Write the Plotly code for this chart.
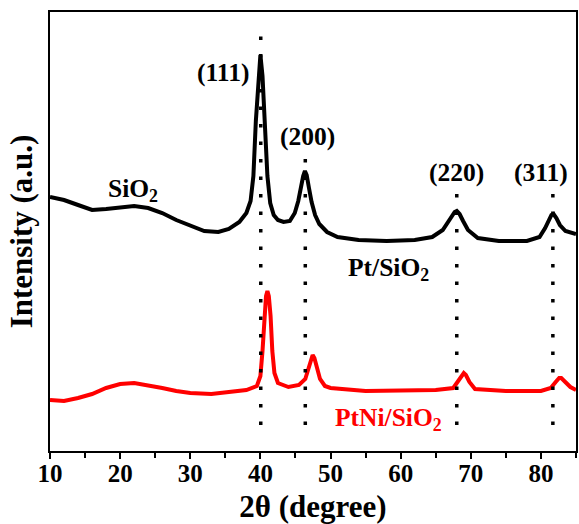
import plotly.graph_objects as go

# ---- data (intensity in arbitrary units) ----
pt_x = [10, 12, 14, 16, 18, 20, 22, 24, 26, 28, 30, 32, 34, 35.5, 37, 38, 38.6, 39.0, 39.35, 39.7, 40.0,
        40.3, 40.65, 41.0, 41.4, 41.9, 42.5, 43.3, 44.2, 44.9, 45.4, 45.8, 46.1, 46.35, 46.6, 46.9, 47.3,
        47.8, 48.4, 49.5, 51, 54, 58, 62, 64.5, 66, 66.8, 67.3, 67.7, 68.0, 68.4, 68.9, 69.6, 71, 74, 78,
        79.8, 80.6, 81.1, 81.5, 81.8, 82.2, 82.7, 83.5, 85]
pt_y = [254, 251, 246, 241, 242, 244, 245, 243, 238, 231, 225, 220, 219, 222, 229, 238, 250, 275, 330, 375, 396,
        375, 330, 275, 248, 236, 231, 229, 230, 238, 250, 265, 275, 280, 276, 264, 249,
        236, 227, 219, 214, 211, 210, 211, 214, 221, 229, 235, 239, 240, 237, 230, 221, 213, 210, 210,
        214, 223, 231, 236, 237, 233, 226, 220, 217]

ptni_x = [10, 12, 14, 16, 18, 20, 22, 24, 26, 28, 30, 33, 36, 38, 39.5, 40.0, 40.3, 40.55, 40.8, 41.0,
          41.2, 41.45, 41.7, 42.0, 42.5, 44, 45.5, 46.4, 46.9, 47.2, 47.45, 47.7, 48.0, 48.5, 49.2, 50,
          55, 60, 65, 67.5, 68.2, 68.7, 69.0, 69.3, 69.8, 70.6, 75, 80, 81.4, 82.1, 82.6, 82.9, 83.4, 84.2, 85]
ptni_y = [51, 50, 53, 57, 63, 67, 68, 66, 63, 60, 58, 57, 59, 61, 65, 75, 100, 135, 155, 160,
          155, 135, 100, 78, 68, 64, 66, 72, 84, 93, 96, 93, 84, 72, 65, 63,
          60, 60, 61, 63, 70, 76, 78, 76, 69, 62, 60, 60, 63, 69, 73, 73, 69, 64, 61]

peak_pos = [40.05, 46.4, 68.0, 81.7]
peak_labels = ["(111)", "(200)", "(220)", "(311)"]
peak_line_top = [416, 303, 264, 264]
peak_line_bottom = 26

x_ticks = [10, 20, 30, 40, 50, 60, 70, 80]

FONT = "Liberation Serif"

fig = go.Figure()
fig.add_trace(go.Scatter(x=pt_x, y=pt_y, mode="lines", line=dict(color="#000000", width=4),
                         showlegend=False, hoverinfo="skip"))
fig.add_trace(go.Scatter(x=ptni_x, y=ptni_y, mode="lines", line=dict(color="#ff0000", width=4),
                         showlegend=False, hoverinfo="skip"))

for xp, top in zip(peak_pos, peak_line_top):
    fig.add_shape(type="line", xref="x", yref="y", x0=xp, x1=xp, y0=peak_line_bottom, y1=top,
                  line=dict(color="#000000", width=3.5, dash="3.5px,14px"), layer="above")

label_xy = [(34.7, 379), (46.65, 315), (67.95, 279), (80.0, 279)]
for (ax, ay), txt in zip(label_xy, peak_labels):
    fig.add_annotation(x=ax, y=ay, xref="x", yref="y", text="<b>" + txt + "</b>", showarrow=False,
                       font=dict(family=FONT, size=25.5, color="#000000"))

fig.add_annotation(x=21.9, y=261, xref="x", yref="y", text="<b>SiO<sub>2</sub></b>", showarrow=False,
                   font=dict(family=FONT, size=25.5, color="#000000"))
fig.add_annotation(x=58.2, y=182, xref="x", yref="y", text="<b>Pt/SiO<sub>2</sub></b>", showarrow=False,
                   bgcolor="#ffffff",
                   font=dict(family=FONT, size=25.5, color="#000000"))
fig.add_annotation(x=58.2, y=32, xref="x", yref="y", text="<b>PtNi/SiO<sub>2</sub></b>", showarrow=False,
                   font=dict(family=FONT, size=25.5, color="#ff0000"))

fig.update_xaxes(range=[10, 85], tickvals=x_ticks, ticktext=["<b>%d</b>" % v for v in x_ticks],
                 ticks="outside", ticklen=6, tickwidth=2, tickcolor="#000000",
                 ticklabelstandoff=-7,
                 minor=dict(dtick=5, tick0=10, ticks="outside", ticklen=5, tickwidth=2, tickcolor="#000000"),
                 showline=True, linecolor="#000000", linewidth=2, mirror=True,
                 showgrid=False, zeroline=False,
                 tickfont=dict(family=FONT, size=25, color="#000000"),
                 title=dict(text="<b>2θ (degree)</b>", standoff=10,
                            font=dict(family=FONT, size=31, color="#000000")))
fig.update_yaxes(range=[0, 439], showticklabels=False, ticks="",
                 showline=True, linecolor="#000000", linewidth=2, mirror=True,
                 showgrid=False, zeroline=False,
                 title=dict(text="<b>Intensity (a.u.)</b>", standoff=6,
                            font=dict(family=FONT, size=31, color="#000000")))

fig.update_layout(width=579, height=524, margin=dict(l=50, r=1, t=12, b=73),
                  paper_bgcolor="#ffffff", plot_bgcolor="#ffffff")

fig.write_html("out.html")
